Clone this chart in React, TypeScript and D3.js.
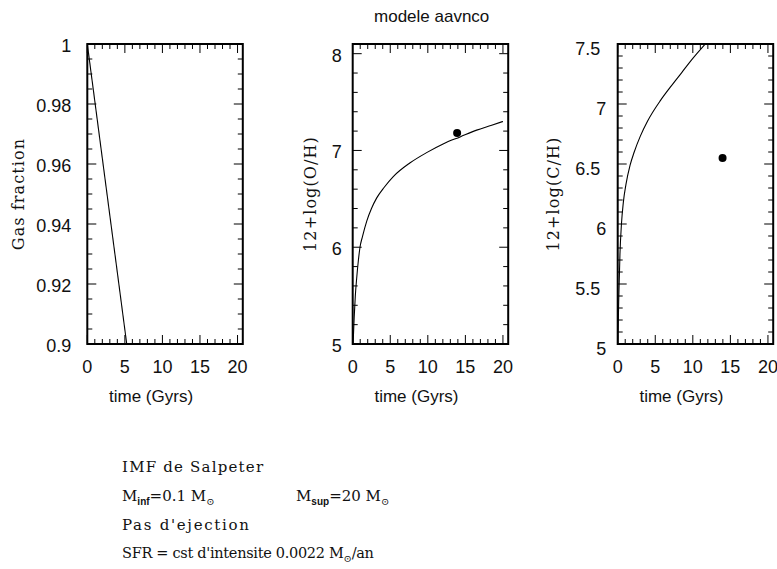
import React from 'react';
import * as d3 from 'd3';

const chartTitle = 'modele aavnco';
const xTickValues = [0, 5, 10, 15, 20];
const xTitle = 'time (Gyrs)';

// Panel 1: gas fraction
const gasTime = [0, 5.25];
const gasFraction = [1.0, 0.9];
const gasTicks = [0.9, 0.92, 0.94, 0.96, 0.98, 1];
const gasLabels = ['0.9', '0.92', '0.94', '0.96', '0.98', '1'];

// Panel 2: 12+log(O/H)
const ohTime = [0.05, 0.2, 0.35, 0.53, 0.75, 0.97, 1.3, 1.87, 2.5, 3.2, 4.2, 5.4, 7.6, 9.9, 12.1, 14.3, 16.5, 18.5, 20];
const ohValue = [5.0, 5.28, 5.5, 5.68, 5.86, 6.0, 6.11, 6.27, 6.4, 6.51, 6.62, 6.73, 6.87, 6.98, 7.07, 7.14, 7.21, 7.26, 7.3];
const ohObsTime = [13.9];
const ohObsValue = [7.18];
const ohTicks = [5, 6, 7, 8];
const ohLabels = ['5', '6', '7', '8'];

// Panel 3: 12+log(C/H)
const chTime = [0.02, 0.13, 0.3, 0.5, 0.75, 1.1, 1.65, 2.2, 3.0, 4.0, 5.7, 7.0, 8.5, 10.0, 11.8, 12.5];
const chValue = [5.0, 5.35, 5.75, 6.0, 6.18, 6.33, 6.49, 6.6, 6.73, 6.86, 7.03, 7.14, 7.26, 7.38, 7.51, 7.56];
const chObsTime = [13.96];
const chObsValue = [6.55];
const chTicks = [5, 5.5, 6, 6.5, 7, 7.5];
const chLabels = ['5', '5.5', '6', '6.5', '7', '7.5'];

const notes = ['IMF de Salpeter', "Pas d'ejection"];

const SANS = '"Liberation Sans", Arial, sans-serif';
const SERIF = '"DejaVu Serif", serif';

const TOP = 44;
const BOTTOM = 344;
const PW = 155.5;
const XMAX = 20.7;

type Panel = {
  x0: number;
  yDomain: [number, number];
  ticks: number[];
  labels: string[];
  minorStep: number;
  title: string;
  titleX: number;
  time: number[];
  values: number[];
  obsTime: number[];
  obsValue: number[];
  labelGapInt: number;
  labelGapDec: number;
  labelShift: number;
  id: string;
};

const panels: Panel[] = [
  {
    id: 'p1', x0: 87.3, yDomain: [0.9, 1], ticks: gasTicks, labels: gasLabels, minorStep: 0.005,
    title: 'Gas fraction', titleX: 24, time: gasTime, values: gasFraction, obsTime: [], obsValue: [],
    labelGapInt: 16, labelGapDec: 16, labelShift: 1,
  },
  {
    id: 'p2', x0: 352.7, yDomain: [5, 8.1], ticks: ohTicks, labels: ohLabels, minorStep: 0.2,
    title: '12+log(O/H)', titleX: 316, time: ohTime, values: ohValue, obsTime: ohObsTime, obsValue: ohObsValue,
    labelGapInt: 11, labelGapDec: 11, labelShift: 1.5,
  },
  {
    id: 'p3', x0: 617.7, yDomain: [5, 7.5], ticks: chTicks, labels: chLabels, minorStep: 0.1,
    title: '12+log(C/H)', titleX: 559, time: chTime, values: chValue, obsTime: chObsTime, obsValue: chObsValue,
    labelGapInt: 11.5, labelGapDec: 17.5, labelShift: 4,
  },
];

const MAJ = 9;
const MIN = 5;

function PanelView({ p }: { p: Panel }) {
  const x = d3.scaleLinear().domain([0, XMAX]).range([p.x0, p.x0 + PW]);
  const y = d3.scaleLinear().domain(p.yDomain).range([BOTTOM, TOP]);
  const xMinor = d3.range(0, XMAX + 1e-9, 1);
  const yMinor = d3.range(p.yDomain[0], p.yDomain[1] + 1e-9, p.minorStep).map((v) => +v.toFixed(4));
  const isMajorY = (v: number) => p.ticks.some((t) => Math.abs(t - v) < 1e-6);
  const line = d3
    .line<number>()
    .x((_, i) => x(p.time[i]))
    .y((v) => y(v))
    .curve(d3.curveMonotoneX);
  const x1 = p.x0 + PW;
  const cx = p.x0 + PW / 2;
  return (
    <g>
      <defs>
        <clipPath id={`clip-${p.id}`}>
          <rect x={p.x0} y={TOP} width={PW} height={BOTTOM - TOP} />
        </clipPath>
      </defs>
      {xMinor.map((v) => {
        const len = v % 5 === 0 ? MAJ : MIN;
        const xx = x(v);
        return (
          <g key={`xt${v}`} stroke="#000" strokeWidth={1}>
            <line x1={xx} x2={xx} y1={BOTTOM} y2={BOTTOM - len} />
            <line x1={xx} x2={xx} y1={TOP} y2={TOP + len} />
          </g>
        );
      })}
      {yMinor.map((v) => {
        const len = isMajorY(v) ? MAJ : MIN;
        const yy = y(v);
        return (
          <g key={`yt${v}`} stroke="#000" strokeWidth={1}>
            <line x1={p.x0} x2={p.x0 + len} y1={yy} y2={yy} />
            <line x1={x1} x2={x1 - len} y1={yy} y2={yy} />
          </g>
        );
      })}
      <path d={line(p.values) || ''} fill="none" stroke="#000" strokeWidth={1.1} clipPath={`url(#clip-${p.id})`} />
      {p.obsTime.map((t, i) => (
        <circle key={`o${i}`} cx={x(t)} cy={y(p.obsValue[i])} r={4} fill="#000" />
      ))}
      <rect x={p.x0} y={TOP} width={PW} height={BOTTOM - TOP} fill="none" stroke="#000" strokeWidth={2} />
      {xTickValues.map((v) => (
        <text key={`xl${v}`} x={x(v)} y={373} textAnchor="middle" fontFamily={SANS} fontSize={18} fill="#111">
          {v}
        </text>
      ))}
      {p.ticks.map((v, i) => {
        const lab = p.labels[i];
        const gap = lab.includes('.') ? p.labelGapDec : p.labelGapInt;
        return (
          <text key={`yl${v}`} x={p.x0 - gap} y={y(v) + 6.5 + p.labelShift} textAnchor="end" fontFamily={SANS} fontSize={18} fill="#111">
            {lab}
          </text>
        );
      })}
      <text x={cx - 14} y={402} textAnchor="middle" fontFamily={SANS} fontSize={17} fill="#111">
        {xTitle}
      </text>
      <text
        transform={`translate(${p.titleX},${(TOP + BOTTOM) / 2}) rotate(-90)`}
        textAnchor="middle"
        fontFamily={SERIF}
        fontSize={16}
        letterSpacing={1.1}
        fill="#111"
      >
        {p.title}
      </text>
    </g>
  );
}

export default function App() {
  const noteX = 122;
  const sub = { fontFamily: SANS, fontSize: 10, fontWeight: 700 } as const;
  const sun = { fontFamily: SERIF, fontSize: 10 } as const;
  return (
    <svg width={777} height={569} style={{ position: 'absolute', left: 0, top: 0, background: '#fff' }}>
      <rect width={777} height={569} fill="#fff" />
      <text x={431.7} y={21.5} textAnchor="middle" fontFamily={SANS} fontSize={17} fill="#111">
        {chartTitle}
      </text>
      {panels.map((p) => (
        <PanelView key={p.id} p={p} />
      ))}
      <g fontFamily={SERIF} fontSize={15} fill="#111">
        <text x={noteX} y={472} letterSpacing={1.2}>{notes[0]}</text>
        <text x={noteX} y={501}>
          M<tspan dy={4} {...sub}>inf</tspan>
          <tspan dy={-4}>=0.1 M</tspan>
          <tspan dy={4} {...sun}>⊙</tspan>
        </text>
        <text x={296} y={501}>
          M<tspan dy={4} {...sub}>sup</tspan>
          <tspan dy={-4}>=20 M</tspan>
          <tspan dy={4} {...sun}>⊙</tspan>
        </text>
        <text x={noteX} y={530} letterSpacing={1.7}>{notes[1]}</text>
        <text x={noteX} y={558} fontSize={14.5} letterSpacing={-0.3}>
          SFR = cst d'intensite 0.0022 M
          <tspan dy={4} {...sun}>⊙</tspan>
          <tspan dy={-4}>/an</tspan>
        </text>
      </g>
    </svg>
  );
}
